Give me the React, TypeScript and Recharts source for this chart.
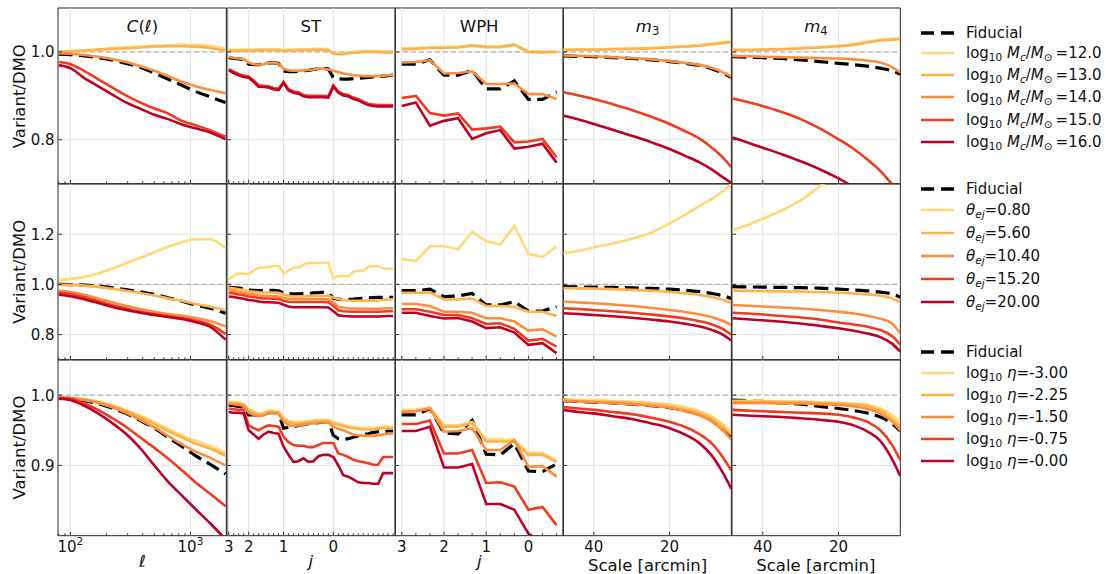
import React from 'react';
import { LineChart, Line, XAxis, YAxis, ReferenceLine, ReferenceArea, Legend } from 'recharts';

const FONT = '"DejaVu Sans", "Liberation Sans", sans-serif';
const COLORS = ['#fed976', '#feb24c', '#fd8d3c', '#f03b20', '#bd0026'];

// ---------- x values ----------
const ell = [80, 100, 130, 170, 220, 290, 380, 500, 650, 850, 1100, 1450, 1960];
const stIndex = [0, 1, 2, 3, 4, 5, 6, 7, 8, 9, 10, 11, 12, 13, 14, 15, 16, 17, 18, 19, 20, 21, 22, 23, 24, 25, 26, 27, 28, 29, 30, 31, 32, 33];
const wphIndex = [0, 1, 2, 3, 4, 5, 6, 7, 8, 9, 10, 11];
const scaleArcmin = [48, 44, 40, 35, 30, 25, 20, 16, 12, 9, 6, 3.75];

// ---------- tick labels ----------
const ellTicks = [80, 90, 100, 200, 300, 400, 500, 600, 700, 800, 900, 1000];
const ellMajor = [100, 1000];
const ellExp = ['2', '3'];
const stMajor = [0, 4, 11, 21];
const stLabels = ['3', '2', '1', '0'];
const wphMajor = [0, 3, 6, 9];
const wphLabels = ['3', '2', '1', '0'];
const scaleMajor = [40, 20];
const scaleLabels = ['40', '20'];
const yTicksMc = [0.8, 1.0];
const yTicksEj = [0.8, 1.0, 1.2];
const yTicksEta = [0.9, 1.0];

// ---------- legend values ----------
const mcValues = ['12.0', '13.0', '14.0', '15.0', '16.0'];
const ejValues = ['0.80', '5.60', '10.40', '15.20', '20.00'];
const etaValues = ['-3.00', '-2.25', '-1.50', '-0.75', '-0.00'];

// ---------- C(l) ----------
const clMcFid = [0.995, 0.994, 0.991, 0.987, 0.982, 0.974, 0.965, 0.952, 0.938, 0.924, 0.910, 0.898, 0.885];
const clMc12 = [1.001, 1.002, 1.004, 1.006, 1.008, 1.010, 1.012, 1.014, 1.015, 1.016, 1.016, 1.014, 1.008];
const clMc13 = [1.000, 1.001, 1.003, 1.005, 1.007, 1.008, 1.010, 1.012, 1.013, 1.013, 1.012, 1.009, 1.003];
const clMc14 = [0.997, 0.996, 0.993, 0.989, 0.984, 0.977, 0.968, 0.957, 0.945, 0.932, 0.922, 0.914, 0.906];
const clMc15 = [0.977, 0.972, 0.957, 0.938, 0.920, 0.901, 0.885, 0.871, 0.860, 0.843, 0.833, 0.822, 0.807];
const clMc16 = [0.970, 0.963, 0.941, 0.922, 0.904, 0.885, 0.871, 0.857, 0.847, 0.835, 0.826, 0.817, 0.801];

const clEjFid = [1.000, 0.999, 0.997, 0.993, 0.987, 0.979, 0.971, 0.960, 0.947, 0.933, 0.918, 0.905, 0.885];
const clEj080 = [1.017, 1.022, 1.030, 1.043, 1.062, 1.083, 1.105, 1.128, 1.150, 1.168, 1.180, 1.180, 1.145];
const clEj560 = [0.999, 0.998, 0.995, 0.990, 0.983, 0.975, 0.966, 0.956, 0.945, 0.934, 0.922, 0.912, 0.897];
const clEj1040 = [0.976, 0.970, 0.959, 0.944, 0.929, 0.915, 0.902, 0.891, 0.882, 0.875, 0.866, 0.854, 0.832];
const clEj1520 = [0.968, 0.962, 0.950, 0.934, 0.918, 0.904, 0.892, 0.882, 0.874, 0.866, 0.856, 0.840, 0.803];
const clEj2000 = [0.960, 0.953, 0.941, 0.926, 0.911, 0.898, 0.887, 0.878, 0.870, 0.862, 0.850, 0.832, 0.780];

const clEtaFid = [0.996, 0.995, 0.992, 0.988, 0.982, 0.974, 0.964, 0.953, 0.940, 0.927, 0.914, 0.902, 0.888];
const clEta300 = [0.997, 0.996, 0.994, 0.991, 0.986, 0.979, 0.971, 0.962, 0.952, 0.943, 0.935, 0.928, 0.918];
const clEta225 = [0.997, 0.996, 0.994, 0.990, 0.985, 0.978, 0.969, 0.959, 0.949, 0.940, 0.931, 0.924, 0.914];
const clEta150 = [0.997, 0.996, 0.993, 0.989, 0.983, 0.975, 0.965, 0.954, 0.942, 0.930, 0.920, 0.911, 0.900];
const clEta075 = [0.996, 0.995, 0.988, 0.979, 0.968, 0.955, 0.940, 0.925, 0.910, 0.893, 0.876, 0.860, 0.842];
const clEta000 = [0.995, 0.993, 0.985, 0.974, 0.961, 0.945, 0.925, 0.900, 0.877, 0.857, 0.838, 0.818, 0.795];

// ---------- ST ----------
const stMcFid = [0.987, 0.985, 0.984, 0.983, 0.972, 0.971, 0.971, 0.972, 0.975, 0.975, 0.974, 0.956, 0.955, 0.955, 0.956, 0.957, 0.958, 0.960, 0.962, 0.963, 0.961, 0.941, 0.939, 0.938, 0.938, 0.939, 0.940, 0.941, 0.942, 0.943, 0.944, 0.945, 0.946, 0.947];
const stMc12 = [1.005, 1.005, 1.005, 1.005, 1.005, 1.005, 1.006, 1.006, 1.006, 1.006, 1.006, 1.004, 1.005, 1.005, 1.006, 1.006, 1.006, 1.007, 1.007, 1.007, 1.006, 0.998, 0.997, 0.997, 0.999, 1.000, 1.001, 1.002, 1.002, 1.002, 1.002, 1.001, 1.001, 1.001];
const stMc13 = [1.003, 1.003, 1.003, 1.003, 1.003, 1.003, 1.004, 1.004, 1.004, 1.004, 1.004, 1.002, 1.003, 1.003, 1.004, 1.004, 1.004, 1.005, 1.005, 1.005, 1.004, 0.996, 0.995, 0.995, 0.997, 0.998, 0.999, 1.000, 1.000, 1.000, 1.000, 0.999, 0.999, 0.999];
const stMc14 = [0.989, 0.986, 0.985, 0.984, 0.976, 0.972, 0.971, 0.972, 0.975, 0.975, 0.973, 0.962, 0.958, 0.957, 0.957, 0.958, 0.959, 0.960, 0.962, 0.962, 0.960, 0.957, 0.954, 0.951, 0.949, 0.947, 0.946, 0.945, 0.945, 0.945, 0.945, 0.946, 0.947, 0.947];
const stMc15 = [0.961, 0.955, 0.950, 0.946, 0.944, 0.935, 0.924, 0.923, 0.922, 0.918, 0.916, 0.932, 0.915, 0.910, 0.908, 0.902, 0.900, 0.900, 0.900, 0.900, 0.899, 0.924, 0.910, 0.904, 0.902, 0.896, 0.893, 0.887, 0.882, 0.880, 0.879, 0.879, 0.879, 0.879];
const stMc16 = [0.958, 0.952, 0.947, 0.943, 0.941, 0.932, 0.921, 0.920, 0.919, 0.915, 0.913, 0.929, 0.912, 0.907, 0.905, 0.899, 0.897, 0.897, 0.897, 0.897, 0.896, 0.921, 0.907, 0.901, 0.899, 0.893, 0.890, 0.884, 0.879, 0.877, 0.876, 0.876, 0.876, 0.876];

const stEjFid = [0.988, 0.987, 0.985, 0.983, 0.977, 0.976, 0.975, 0.975, 0.976, 0.976, 0.974, 0.966, 0.962, 0.962, 0.962, 0.963, 0.964, 0.966, 0.967, 0.968, 0.966, 0.945, 0.941, 0.939, 0.940, 0.941, 0.943, 0.945, 0.946, 0.947, 0.948, 0.948, 0.948, 0.948];
const stEj080 = [1.021, 1.035, 1.044, 1.042, 1.041, 1.055, 1.066, 1.067, 1.069, 1.072, 1.073, 1.043, 1.055, 1.067, 1.068, 1.078, 1.084, 1.085, 1.085, 1.086, 1.086, 1.022, 1.033, 1.033, 1.032, 1.050, 1.054, 1.054, 1.070, 1.072, 1.072, 1.064, 1.062, 1.062];
const stEj560 = [0.986, 0.984, 0.981, 0.978, 0.972, 0.971, 0.969, 0.968, 0.968, 0.968, 0.967, 0.960, 0.955, 0.952, 0.952, 0.953, 0.954, 0.955, 0.955, 0.955, 0.955, 0.948, 0.942, 0.938, 0.936, 0.935, 0.935, 0.935, 0.935, 0.935, 0.936, 0.938, 0.940, 0.942];
const stEj1040 = [0.976, 0.974, 0.970, 0.967, 0.962, 0.960, 0.956, 0.954, 0.954, 0.953, 0.952, 0.946, 0.943, 0.942, 0.942, 0.942, 0.942, 0.942, 0.942, 0.942, 0.941, 0.928, 0.911, 0.907, 0.905, 0.904, 0.903, 0.903, 0.903, 0.903, 0.903, 0.904, 0.905, 0.905];
const stEj1520 = [0.966, 0.964, 0.960, 0.957, 0.952, 0.950, 0.946, 0.944, 0.944, 0.943, 0.942, 0.935, 0.931, 0.930, 0.930, 0.930, 0.930, 0.930, 0.930, 0.930, 0.929, 0.915, 0.897, 0.893, 0.892, 0.891, 0.891, 0.891, 0.891, 0.891, 0.891, 0.892, 0.893, 0.893];
const stEj2000 = [0.952, 0.950, 0.946, 0.943, 0.938, 0.936, 0.932, 0.929, 0.929, 0.928, 0.927, 0.919, 0.912, 0.909, 0.909, 0.909, 0.909, 0.909, 0.909, 0.909, 0.908, 0.893, 0.877, 0.874, 0.873, 0.872, 0.872, 0.872, 0.872, 0.872, 0.872, 0.873, 0.874, 0.874];

const stEtaFid = [0.986, 0.985, 0.984, 0.983, 0.972, 0.972, 0.972, 0.973, 0.975, 0.975, 0.975, 0.953, 0.954, 0.955, 0.957, 0.958, 0.959, 0.960, 0.961, 0.962, 0.962, 0.943, 0.938, 0.937, 0.938, 0.940, 0.942, 0.944, 0.945, 0.947, 0.948, 0.948, 0.949, 0.949];
const stEta300 = [0.991, 0.990, 0.990, 0.988, 0.980, 0.977, 0.974, 0.975, 0.978, 0.978, 0.977, 0.968, 0.963, 0.962, 0.962, 0.962, 0.963, 0.964, 0.965, 0.965, 0.965, 0.962, 0.960, 0.958, 0.956, 0.955, 0.954, 0.953, 0.953, 0.953, 0.954, 0.955, 0.955, 0.955];
const stEta225 = [0.989, 0.988, 0.988, 0.986, 0.978, 0.975, 0.972, 0.973, 0.976, 0.976, 0.975, 0.966, 0.961, 0.960, 0.960, 0.960, 0.961, 0.962, 0.963, 0.963, 0.963, 0.960, 0.958, 0.956, 0.954, 0.953, 0.952, 0.951, 0.951, 0.951, 0.952, 0.953, 0.953, 0.953];
const stEta150 = [0.988, 0.987, 0.986, 0.985, 0.975, 0.972, 0.970, 0.971, 0.975, 0.975, 0.973, 0.963, 0.957, 0.956, 0.957, 0.958, 0.959, 0.960, 0.961, 0.961, 0.961, 0.955, 0.952, 0.950, 0.947, 0.944, 0.943, 0.942, 0.942, 0.942, 0.943, 0.944, 0.945, 0.945];
const stEta075 = [0.981, 0.980, 0.979, 0.979, 0.957, 0.953, 0.950, 0.954, 0.957, 0.956, 0.955, 0.941, 0.933, 0.929, 0.928, 0.928, 0.926, 0.926, 0.929, 0.932, 0.932, 0.932, 0.917, 0.915, 0.912, 0.908, 0.906, 0.905, 0.903, 0.901, 0.901, 0.912, 0.912, 0.912];
const stEta000 = [0.976, 0.975, 0.975, 0.974, 0.950, 0.944, 0.938, 0.944, 0.948, 0.946, 0.945, 0.927, 0.915, 0.905, 0.906, 0.910, 0.905, 0.906, 0.913, 0.915, 0.915, 0.912, 0.900, 0.886, 0.884, 0.880, 0.876, 0.875, 0.875, 0.874, 0.874, 0.889, 0.889, 0.889];

// ---------- WPH ----------
const wphMcFid = [0.972, 0.972, 0.982, 0.947, 0.947, 0.958, 0.916, 0.916, 0.934, 0.892, 0.892, 0.909];
const wphMc12 = [1.008, 1.009, 1.010, 1.011, 1.011, 1.016, 1.012, 1.013, 1.018, 1.002, 1.001, 1.001];
const wphMc13 = [1.006, 1.007, 1.009, 1.009, 1.010, 1.014, 1.011, 1.011, 1.016, 1.000, 0.999, 1.000];
const wphMc14 = [0.976, 0.977, 0.981, 0.951, 0.952, 0.956, 0.927, 0.927, 0.928, 0.904, 0.904, 0.893];
const wphMc15 = [0.895, 0.900, 0.861, 0.855, 0.860, 0.823, 0.826, 0.830, 0.794, 0.796, 0.802, 0.760];
const wphMc16 = [0.877, 0.885, 0.832, 0.843, 0.849, 0.802, 0.815, 0.822, 0.780, 0.784, 0.791, 0.748];

const wphEjFid = [0.975, 0.975, 0.981, 0.951, 0.954, 0.964, 0.918, 0.918, 0.931, 0.894, 0.894, 0.911];
const wphEj080 = [1.101, 1.093, 1.152, 1.152, 1.140, 1.209, 1.172, 1.159, 1.233, 1.121, 1.110, 1.150];
const wphEj560 = [0.967, 0.967, 0.968, 0.940, 0.940, 0.944, 0.914, 0.914, 0.911, 0.891, 0.891, 0.874];
const wphEj1040 = [0.922, 0.922, 0.914, 0.891, 0.891, 0.887, 0.865, 0.865, 0.852, 0.816, 0.821, 0.792];
const wphEj1520 = [0.901, 0.901, 0.891, 0.878, 0.878, 0.865, 0.842, 0.845, 0.823, 0.776, 0.783, 0.752];
const wphEj2000 = [0.887, 0.887, 0.874, 0.864, 0.866, 0.852, 0.826, 0.829, 0.808, 0.759, 0.766, 0.726];

const wphEtaFid = [0.972, 0.972, 0.981, 0.946, 0.945, 0.964, 0.916, 0.915, 0.931, 0.892, 0.891, 0.902];
const wphEta300 = [0.979, 0.979, 0.983, 0.957, 0.957, 0.962, 0.937, 0.937, 0.936, 0.918, 0.918, 0.907];
const wphEta225 = [0.977, 0.977, 0.981, 0.955, 0.955, 0.960, 0.934, 0.934, 0.934, 0.915, 0.915, 0.905];
const wphEta150 = [0.976, 0.977, 0.981, 0.948, 0.949, 0.953, 0.922, 0.922, 0.936, 0.898, 0.899, 0.884];
const wphEta075 = [0.959, 0.959, 0.964, 0.917, 0.917, 0.922, 0.875, 0.876, 0.870, 0.837, 0.841, 0.815];
const wphEta000 = [0.949, 0.949, 0.955, 0.897, 0.897, 0.902, 0.845, 0.845, 0.837, 0.803, 0.790, 0.770];

// ---------- m3 ----------
const m3McFid = [0.991, 0.990, 0.989, 0.987, 0.985, 0.982, 0.978, 0.974, 0.969, 0.962, 0.952, 0.942];
const m3Mc12 = [1.005, 1.006, 1.006, 1.007, 1.008, 1.009, 1.011, 1.013, 1.016, 1.019, 1.022, 1.024];
const m3Mc13 = [1.004, 1.005, 1.005, 1.006, 1.007, 1.008, 1.010, 1.012, 1.014, 1.017, 1.020, 1.022];
const m3Mc14 = [0.992, 0.991, 0.990, 0.988, 0.986, 0.983, 0.979, 0.975, 0.970, 0.964, 0.954, 0.944];
const m3Mc15 = [0.908, 0.901, 0.893, 0.881, 0.868, 0.853, 0.836, 0.820, 0.802, 0.783, 0.760, 0.738];
const m3Mc16 = [0.855, 0.846, 0.836, 0.823, 0.809, 0.795, 0.779, 0.764, 0.748, 0.733, 0.715, 0.702];

const m3EjFid = [0.991, 0.990, 0.989, 0.988, 0.986, 0.984, 0.981, 0.977, 0.971, 0.964, 0.955, 0.944];
const m3Ej080 = [1.123, 1.134, 1.147, 1.163, 1.182, 1.205, 1.243, 1.277, 1.313, 1.340, 1.370, 1.400];
const m3Ej560 = [0.985, 0.984, 0.983, 0.981, 0.978, 0.975, 0.970, 0.965, 0.958, 0.950, 0.939, 0.927];
const m3Ej1040 = [0.932, 0.928, 0.925, 0.920, 0.914, 0.907, 0.898, 0.890, 0.880, 0.870, 0.855, 0.838];
const m3Ej1520 = [0.905, 0.902, 0.898, 0.893, 0.887, 0.880, 0.872, 0.864, 0.853, 0.841, 0.823, 0.800];
const m3Ej2000 = [0.885, 0.882, 0.878, 0.873, 0.867, 0.860, 0.852, 0.843, 0.832, 0.819, 0.800, 0.777];

const m3EtaFid = [0.992, 0.991, 0.990, 0.989, 0.987, 0.985, 0.982, 0.978, 0.972, 0.964, 0.952, 0.941];
const m3Eta300 = [0.994, 0.993, 0.993, 0.992, 0.991, 0.989, 0.987, 0.983, 0.977, 0.970, 0.959, 0.948];
const m3Eta225 = [0.993, 0.992, 0.991, 0.990, 0.989, 0.987, 0.984, 0.980, 0.974, 0.967, 0.955, 0.944];
const m3Eta150 = [0.992, 0.991, 0.990, 0.989, 0.987, 0.985, 0.982, 0.977, 0.971, 0.963, 0.950, 0.937];
const m3Eta075 = [0.983, 0.981, 0.979, 0.976, 0.973, 0.968, 0.962, 0.955, 0.944, 0.932, 0.912, 0.893];
const m3Eta000 = [0.979, 0.976, 0.974, 0.970, 0.966, 0.960, 0.953, 0.944, 0.931, 0.915, 0.890, 0.867];

// ---------- m4 ----------
const m4McFid = [0.989, 0.988, 0.987, 0.985, 0.982, 0.978, 0.974, 0.971, 0.967, 0.963, 0.957, 0.949];
const m4Mc12 = [1.005, 1.005, 1.006, 1.007, 1.009, 1.011, 1.014, 1.018, 1.024, 1.028, 1.030, 1.031];
const m4Mc13 = [1.004, 1.004, 1.005, 1.006, 1.008, 1.010, 1.013, 1.016, 1.022, 1.026, 1.028, 1.029];
const m4Mc14 = [0.991, 0.990, 0.989, 0.988, 0.987, 0.986, 0.985, 0.983, 0.980, 0.976, 0.966, 0.953];
const m4Mc15 = [0.894, 0.886, 0.877, 0.863, 0.847, 0.826, 0.801, 0.779, 0.752, 0.729, 0.700, 0.680];
const m4Mc16 = [0.805, 0.794, 0.782, 0.767, 0.751, 0.733, 0.712, 0.693, 0.675, 0.660, 0.640, 0.625];

const m4EjFid = [0.991, 0.990, 0.989, 0.988, 0.987, 0.985, 0.981, 0.978, 0.974, 0.969, 0.962, 0.949];
const m4Ej080 = [1.216, 1.237, 1.262, 1.295, 1.335, 1.390, 1.440, 1.490, 1.545, 1.590, 1.640, 1.680];
const m4Ej560 = [0.975, 0.974, 0.973, 0.972, 0.971, 0.969, 0.967, 0.964, 0.960, 0.955, 0.945, 0.928];
const m4Ej1040 = [0.918, 0.915, 0.912, 0.908, 0.904, 0.898, 0.891, 0.884, 0.874, 0.863, 0.845, 0.805];
const m4Ej1520 = [0.887, 0.884, 0.880, 0.874, 0.868, 0.860, 0.848, 0.840, 0.830, 0.818, 0.795, 0.760];
const m4Ej2000 = [0.865, 0.861, 0.857, 0.851, 0.844, 0.835, 0.825, 0.815, 0.803, 0.790, 0.765, 0.732];

const m4EtaFid = [0.993, 0.992, 0.991, 0.989, 0.987, 0.984, 0.981, 0.978, 0.974, 0.969, 0.960, 0.949];
const m4Eta300 = [0.992, 0.992, 0.992, 0.991, 0.991, 0.990, 0.989, 0.988, 0.986, 0.981, 0.972, 0.962];
const m4Eta225 = [0.991, 0.991, 0.991, 0.990, 0.990, 0.989, 0.988, 0.987, 0.984, 0.978, 0.967, 0.955];
const m4Eta150 = [0.989, 0.989, 0.989, 0.988, 0.988, 0.987, 0.986, 0.984, 0.980, 0.974, 0.963, 0.950];
const m4Eta075 = [0.979, 0.978, 0.977, 0.976, 0.975, 0.974, 0.972, 0.968, 0.961, 0.950, 0.930, 0.908];
const m4Eta000 = [0.972, 0.971, 0.970, 0.969, 0.967, 0.965, 0.962, 0.957, 0.947, 0.935, 0.910, 0.885];

const SERIES: number[][][][] = [
  [
    [clMcFid, clMc12, clMc13, clMc14, clMc15, clMc16],
    [stMcFid, stMc12, stMc13, stMc14, stMc15, stMc16],
    [wphMcFid, wphMc12, wphMc13, wphMc14, wphMc15, wphMc16],
    [m3McFid, m3Mc12, m3Mc13, m3Mc14, m3Mc15, m3Mc16],
    [m4McFid, m4Mc12, m4Mc13, m4Mc14, m4Mc15, m4Mc16],
  ],
  [
    [clEjFid, clEj080, clEj560, clEj1040, clEj1520, clEj2000],
    [stEjFid, stEj080, stEj560, stEj1040, stEj1520, stEj2000],
    [wphEjFid, wphEj080, wphEj560, wphEj1040, wphEj1520, wphEj2000],
    [m3EjFid, m3Ej080, m3Ej560, m3Ej1040, m3Ej1520, m3Ej2000],
    [m4EjFid, m4Ej080, m4Ej560, m4Ej1040, m4Ej1520, m4Ej2000],
  ],
  [
    [clEtaFid, clEta300, clEta225, clEta150, clEta075, clEta000],
    [stEtaFid, stEta300, stEta225, stEta150, stEta075, stEta000],
    [wphEtaFid, wphEta300, wphEta225, wphEta150, wphEta075, wphEta000],
    [m3EtaFid, m3Eta300, m3Eta225, m3Eta150, m3Eta075, m3Eta000],
    [m4EtaFid, m4Eta300, m4Eta225, m4Eta150, m4Eta075, m4Eta000],
  ],
];

// ---------- layout ----------
const PANEL_X = [58.3, 226.65, 395, 563.35, 731.7];
const PANEL_Y = [8.3, 184, 359.7];
const PW = 168.35;
const PH = 175.7;
const ML = 50, MT = 6, MR = 6, MB = 40;

type ColCfg = {
  xs: number[]; scale: 'log' | 'linear'; domain: [number, number]; reversed: boolean;
  ticks: number[]; majors: number[]; labels: string[]; exp: boolean; curve: 'monotone' | 'linear';
};
const COLS: ColCfg[] = [
  { xs: ell, scale: 'log', domain: [78.9, 1990], reversed: false, ticks: ellTicks, majors: ellMajor, labels: ellExp, exp: true, curve: 'monotone' },
  { xs: stIndex, scale: 'linear', domain: [-0.35, 33.45], reversed: false, ticks: stIndex, majors: stMajor, labels: stLabels, exp: false, curve: 'linear' },
  { xs: wphIndex, scale: 'linear', domain: [-0.48, 11.48], reversed: false, ticks: wphIndex, majors: wphMajor, labels: wphLabels, exp: false, curve: 'linear' },
  { xs: scaleArcmin, scale: 'linear', domain: [3.72, 48.1], reversed: true, ticks: scaleMajor, majors: scaleMajor, labels: scaleLabels, exp: false, curve: 'monotone' },
  { xs: scaleArcmin, scale: 'linear', domain: [3.72, 48.1], reversed: true, ticks: scaleMajor, majors: scaleMajor, labels: scaleLabels, exp: false, curve: 'monotone' },
];
const ROWS = [
  { domain: [0.7, 1.1] as [number, number], ticks: yTicksMc, values: mcValues, fidY: 32.7, gap1: 20.6, gap: 22.1 },
  { domain: [0.7, 1.4] as [number, number], ticks: yTicksEj, values: ejValues, fidY: 189, gap1: 21, gap: 23 },
  { domain: [0.8, 1.05] as [number, number], ticks: yTicksEta, values: etaValues, fidY: 351.7, gap1: 21, gap: 22.1 },
];
const KEYS = ['fid', 's1', 's2', 's3', 's4', 's5'];

const makeXTick = (c: ColCfg, show: boolean) => (p: any) => {
  const v = p.payload.value;
  const mi = c.majors.indexOf(v);
  const major = mi >= 0;
  const len = major ? 4 : 2.4;
  return (
    <g>
      <line x1={p.x} x2={p.x} y1={p.y} y2={p.y - len} stroke="#222" strokeWidth={0.9} />
      {show && major && (
        <text x={p.x} y={p.y + 16.3} textAnchor="middle" fontSize={15} fontFamily={FONT} fill="#111">
          {c.exp ? (<><tspan>10</tspan><tspan dy={-6.5} fontSize={10.5}>{c.labels[mi]}</tspan></>) : c.labels[mi]}
        </text>
      )}
    </g>
  );
};

const makeYTick = (show: boolean) => (p: any) => {
  const v = p.payload.value as number;
  return (
    <g>
      <line x1={p.x} x2={p.x + 4} y1={p.y} y2={p.y} stroke="#222" strokeWidth={0.9} />
      {show && (
        <text x={p.x - 3.5} y={p.y} dy="0.36em" textAnchor="end" fontSize={15} fontFamily={FONT} fill="#111">
          {v.toFixed(1)}
        </text>
      )}
    </g>
  );
};

const sub: React.CSSProperties = { fontSize: '0.7em', verticalAlign: '-0.3em' };

function legendLabel(row: number, k: number, values: string[]) {
  if (k === 0) return <span>Fiducial</span>;
  const v = values[k - 1];
  if (row === 0)
    return (<span>log<span style={sub}>10</span>{' '}<i>M</i><span style={{ ...sub, fontStyle: 'italic' }}>c</span>/<i>M</i><span style={sub}>⊙</span>{'\u2009'}={v}</span>);
  if (row === 1)
    return (<span><i>θ</i><span style={{ ...sub, fontStyle: 'italic' }}>ej</span>={v}</span>);
  return (<span>log<span style={sub}>10</span>{' '}<i>η</i>={v}</span>);
}

const makeLegend = (row: number) => (props: any) => {
  const r = ROWS[row];
  const payload = [...(props.payload || [])].sort(
    (a: any, b: any) => KEYS.indexOf(a.dataKey) - KEYS.indexOf(b.dataKey)
  );
  return (
    <div style={{ position: 'relative', width: 190, height: 140, fontFamily: FONT, fontSize: 15, color: '#111' }}>
      {payload.map((e: any, k: number) => {
        const top = k === 0 ? 0 : r.gap1 + (k - 1) * r.gap;
        const fid = k === 0;
        return (
          <div key={k} style={{ position: 'absolute', left: 0, top, height: 22, width: 190 }}>
            <svg width={34} height={22} style={{ position: 'absolute', left: 0, top: 0 }}>
              <line x1={0} x2={33} y1={11} y2={11} stroke={e.color} strokeWidth={fid ? 3.3 : 2.6} strokeDasharray={fid ? '13 7' : undefined} />
            </svg>
            <div style={{ position: 'absolute', left: 45, top: 0, lineHeight: '22px', whiteSpace: 'nowrap' }}>
              {legendLabel(row, k, r.values)}
            </div>
          </div>
        );
      })}
    </div>
  );
};

function Panel({ row, col }: { row: number; col: number }) {
  const r = ROWS[row];
  const c = COLS[col];
  const ser = SERIES[row][col];
  const data = c.xs.map((x, i) => ({
    x, fid: ser[0][i], s1: ser[1][i], s2: ser[2][i], s3: ser[3][i], s4: ser[4][i], s5: ser[5][i],
  }));
  const W = ML + PW + MR;
  const H = MT + PH + MB;
  const left = PANEL_X[col] - ML;
  const top = PANEL_Y[row] - MT;
  const names = ['Fiducial', ...r.values];
  return (
    <div style={{ position: 'absolute', left, top, width: W, height: H }}>
      <LineChart width={W} height={H} data={data} margin={{ top: MT, right: MR, left: 0, bottom: 0 }}>
        <XAxis dataKey="x" type="number" scale={c.scale} domain={c.domain} reversed={c.reversed} allowDataOverflow
          ticks={c.ticks} interval={0} tickLine={false} axisLine={false} tickSize={0} tickMargin={0} height={MB}
          tick={makeXTick(c, row === 2)} />
        <YAxis type="number" domain={r.domain} allowDataOverflow ticks={r.ticks} interval={0} tickLine={false}
          axisLine={false} tickSize={0} tickMargin={0} width={ML} tick={makeYTick(col === 0)} />
        {c.majors.map((v) => (
          <ReferenceLine key={'gx' + v} x={v} stroke="#e4e4e4" strokeWidth={1} />
        ))}
        {r.ticks.map((v) => (
          <ReferenceLine key={'gy' + v} y={v} stroke="#e4e4e4" strokeWidth={1} />
        ))}
        <ReferenceLine y={1} stroke="#b4b4b4" strokeWidth={1.3} strokeDasharray="5 3" />
        <Line type={c.curve} dataKey="fid" name={names[0]} stroke="#000" strokeWidth={3.2} strokeDasharray="14 6.5"
          dot={false} isAnimationActive={false} />
        {[1, 2, 3, 4, 5].map((k) => (
          <Line key={k} type={c.curve} dataKey={KEYS[k]} name={names[k]} stroke={COLORS[k - 1]} strokeWidth={2.6}
            dot={false} isAnimationActive={false} />
        ))}
        <ReferenceArea x1={c.domain[0]} x2={c.domain[1]} y1={r.domain[0]} y2={r.domain[1]} fill="none"
          fillOpacity={0} stroke="#262626" strokeWidth={1} />
        {col === 4 && (
          <Legend layout="vertical" align="center" verticalAlign="middle" width={190}
            wrapperStyle={{ left: 921 - left, top: r.fidY - 11 - top, width: 190, height: 140 }}
            content={makeLegend(row)} />
        )}
      </LineChart>
    </div>
  );
}

const COL_CENTER = PANEL_X.map((x) => x + PW / 2);
const ROW_CENTER = PANEL_Y.map((y) => y + PH / 2);

export default function App() {
  return (
    <div style={{ position: 'absolute', left: 0, top: 0, width: 1110, height: 574, background: '#fff', fontFamily: FONT, overflow: 'hidden' }}>
      {[0, 1, 2].map((ri) => [0, 1, 2, 3, 4].map((ci) => <Panel key={ri + '-' + ci} row={ri} col={ci} />))}
      <svg width={1110} height={574} style={{ position: 'absolute', left: 0, top: 0, pointerEvents: 'none' }}>
        <g fontFamily={FONT} fill="#111" fontSize={16.5} textAnchor="middle">
          <text x={COL_CENTER[0]} y={31.5}><tspan fontStyle="italic">C</tspan>(<tspan fontStyle="italic">ℓ</tspan>)</text>
          <text x={COL_CENTER[1]} y={31.5}>ST</text>
          <text x={COL_CENTER[2]} y={31.5}>WPH</text>
          <text x={COL_CENTER[3]} y={31.5}><tspan fontStyle="italic">m</tspan><tspan fontSize={11.5} dy={3.5}>3</tspan></text>
          <text x={COL_CENTER[4]} y={31.5}><tspan fontStyle="italic">m</tspan><tspan fontSize={11.5} dy={3.5}>4</tspan></text>
          {ROW_CENTER.map((cy, i) => (
            <text key={i} x={19} y={cy} dy="0.36em" transform={`rotate(-90 19 ${cy})`}>Variant/DMO</text>
          ))}
          <text x={COL_CENTER[0]} y={566.5} fontStyle="italic">ℓ</text>
          <text x={COL_CENTER[1]} y={566.5} fontStyle="italic">j</text>
          <text x={COL_CENTER[2]} y={566.5} fontStyle="italic">j</text>
          <text x={COL_CENTER[3]} y={570.5}>Scale [arcmin]</text>
          <text x={COL_CENTER[4]} y={570.5}>Scale [arcmin]</text>
        </g>
      </svg>
    </div>
  );
}
